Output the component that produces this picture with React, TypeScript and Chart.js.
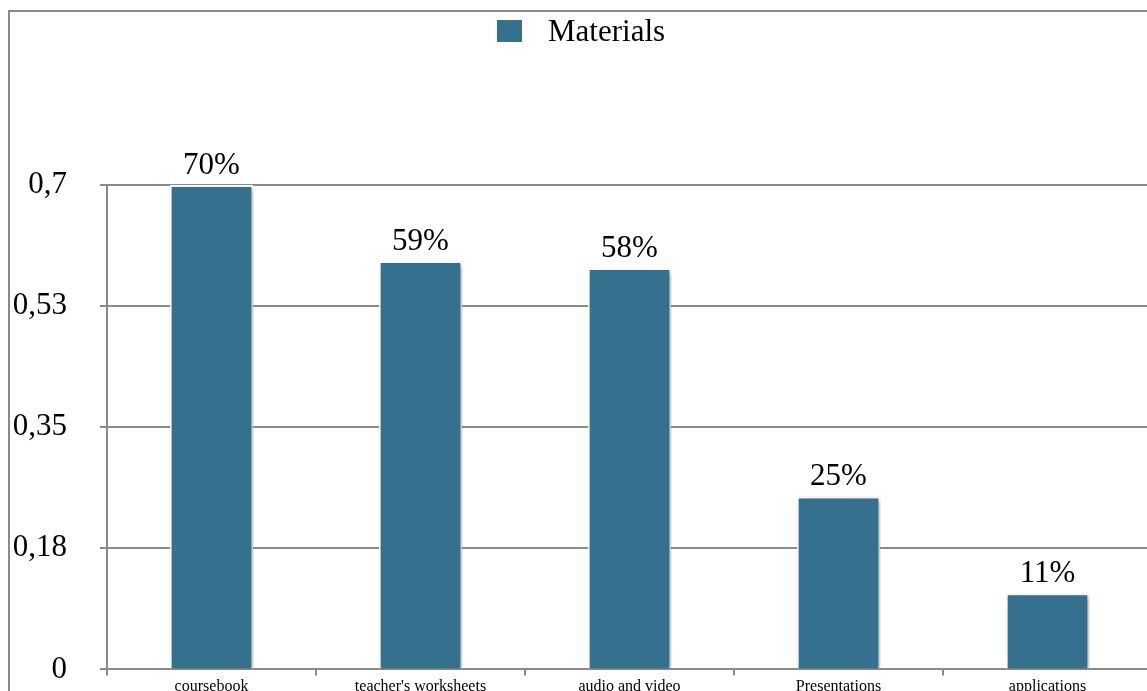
import React, { useEffect, useRef } from "react";
import { Chart, registerables } from "chart.js";

Chart.register(...registerables);

const categories = ["coursebook", "teacher's worksheets", "audio and video", "Presentations", "applications"];
const values = [0.7, 0.59, 0.58, 0.25, 0.11];
const valueLabels = ["70%", "59%", "58%", "25%", "11%"];
const yTickValues = [0, 0.175, 0.35, 0.525, 0.7];
const yTickLabels = ["0", "0,18", "0,35", "0,53", "0,7"];
const seriesName = "Materials";

const BAR_COLOR = "#36708f";
const GRAY = "#8a8a8a";
const SERIF = "'Liberation Serif', 'Times New Roman', serif";

export default function App() {
  const ref = useRef<HTMLCanvasElement | null>(null);

  useEffect(() => {
    const canvas = ref.current;
    if (!canvas) return;

    const framePlugin = {
      id: "frame",
      beforeDraw(chart: any) {
        const { ctx, width, height } = chart;
        ctx.save();
        ctx.fillStyle = "#ffffff";
        ctx.fillRect(0, 0, width, height);
        ctx.strokeStyle = GRAY;
        ctx.lineWidth = 2;
        ctx.beginPath();
        ctx.moveTo(9, height);
        ctx.lineTo(9, 11);
        ctx.lineTo(width, 11);
        ctx.stroke();
        ctx.restore();
      },
    };

    const shadowPlugin = {
      id: "barShadow",
      beforeDatasetsDraw(chart: any) {
        const ctx = chart.ctx;
        ctx.save();
        ctx.shadowColor = "rgba(0,0,0,0.4)";
        ctx.shadowBlur = 5;
        ctx.shadowOffsetX = 2;
        ctx.shadowOffsetY = 2;
      },
      afterDatasetsDraw(chart: any) {
        chart.ctx.restore();
      },
    };

    const labelPlugin = {
      id: "valueLabels",
      afterDraw(chart: any) {
        const ctx = chart.ctx;
        const meta = chart.getDatasetMeta(0);
        ctx.save();
        ctx.fillStyle = "#000000";
        ctx.font = `31px ${SERIF}`;
        ctx.textAlign = "center";
        ctx.textBaseline = "alphabetic";
        meta.data.forEach((bar: any, i: number) => {
          ctx.fillText(valueLabels[i], bar.x, bar.y - 11);
        });
        // legend
        ctx.fillStyle = BAR_COLOR;
        ctx.fillRect(497, 20, 25, 22);
        ctx.fillStyle = "#000000";
        ctx.textAlign = "left";
        ctx.textBaseline = "middle";
        ctx.fillText(seriesName, 548, 33);
        ctx.restore();
      },
    };

    const chart = new Chart(canvas, {
      type: "bar",
      data: {
        labels: categories,
        datasets: [
          {
            label: seriesName,
            data: values,
            backgroundColor: BAR_COLOR,
            borderColor: "#ffffff",
            borderWidth: 2,
            barPercentage: 0.4,
            categoryPercentage: 1,
          },
        ],
      },
      options: {
        responsive: false,
        animation: false,
        layout: { padding: { top: 185, right: 13, left: 0, bottom: 0 } },
        plugins: {
          legend: { display: false },
          tooltip: { enabled: false },
          title: { display: false },
        },
        scales: {
          x: {
            grid: {
              display: true,
              drawOnChartArea: false,
              drawTicks: true,
              tickLength: 6,
              color: GRAY,
              lineWidth: 2,
              offset: true,
            },
            border: { display: true, color: GRAY, width: 2 },
            ticks: {
              color: "#000000",
              font: { family: SERIF, size: 16 },
              padding: 2,
              maxRotation: 0,
              autoSkip: false,
            },
            afterFit(scale: any) {
              scale.height = 31;
            },
          },
          y: {
            min: 0,
            max: 0.7,
            grid: {
              color: GRAY,
              lineWidth: 2,
              drawTicks: true,
              tickLength: 7,
            },
            border: { display: true, color: GRAY, width: 2 },
            ticks: {
              color: "#000000",
              font: { family: SERIF, size: 31 },
              padding: 33,
              callback: (_v: any, i: number) => yTickLabels[i],
            },
            afterBuildTicks(scale: any) {
              scale.ticks = yTickValues.map((v) => ({ value: v }));
            },
            afterFit(scale: any) {
              scale.width = 107;
            },
          },
        },
      },
      plugins: [framePlugin, shadowPlugin, labelPlugin],
    } as any);

    return () => chart.destroy();
  }, []);

  return (
    <div
      style={{
        position: "fixed",
        left: 0,
        top: 0,
        width: 1147,
        height: 691,
        overflow: "hidden",
        background: "#ffffff",
      }}
    >
      <canvas ref={ref} width={1165} height={721} style={{ display: "block" }} />
    </div>
  );
}
